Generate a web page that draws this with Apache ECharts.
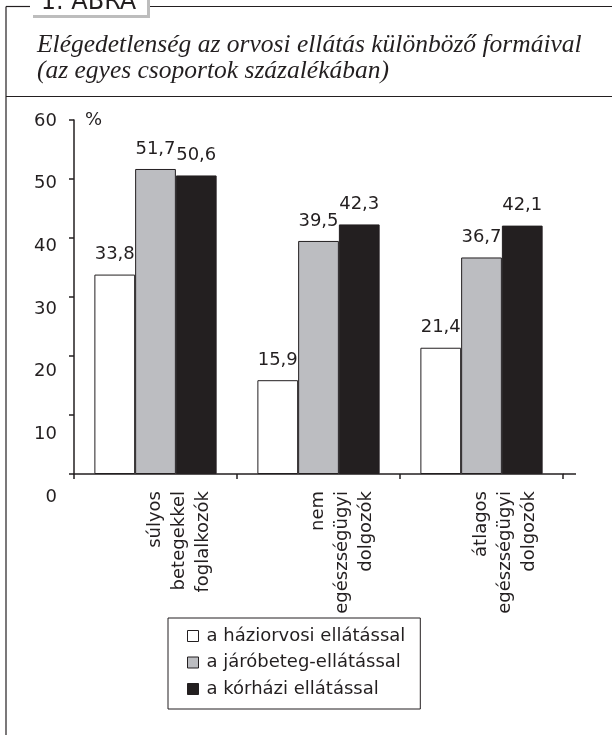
<!DOCTYPE html>
<html>
<head>
<meta charset="utf-8">
<script src="https://cdn.jsdelivr.net/npm/echarts@6/dist/echarts.min.js"></script>
<style>
html,body{margin:0;padding:0;background:#fff;}
#chart{width:612px;height:735px;}
</style>
</head>
<body>
<div id="chart"></div>
<script>
const categories = ['súlyos\nbetegekkel\nfoglalkozók', 'nem\negészségügyi\ndolgozók', 'átlagos\negészségügyi\ndolgozók'];
const seriesNames = ['a háziorvosi ellátással', 'a járóbeteg-ellátással', 'a kórházi ellátással'];
const haziorvosi = [33.8, 15.9, 21.4];
const jarobeteg = [51.7, 39.5, 36.7];
const korhazi = [50.6, 42.3, 42.1];
const yTicks = [0, 10, 20, 30, 40, 50, 60];
const titleText = 'Elégedetlenség az orvosi ellátás különböző formáival\n(az egyes csoportok százalékában)';
const tabText = '1. ÁBRA';

const ink = '#231f20';
const font = 'DejaVu Sans';
const colors = ['#ffffff', '#bcbdc1', '#231f20'];
const values = [haziorvosi, jarobeteg, korhazi];

const chart = echarts.init(document.getElementById('chart'), null, {renderer: 'canvas'});

const series = values.map((v, i) => ({
  name: seriesNames[i],
  type: 'bar',
  xAxisIndex: 0,
  yAxisIndex: 0,
  data: v,
  barGap: '0%',
  barCategoryGap: '25%',
  itemStyle: {color: colors[i], borderColor: ink, borderWidth: 1},
  label: {
    show: true,
    position: 'top',
    distance: 11,
    fontFamily: font,
    fontSize: 18,
    color: ink,
    formatter: p => String(p.value).replace('.', ',')
  }
}));

chart.setOption({
  animation: false,
  backgroundColor: '#fff',
  textStyle: {fontFamily: font},
  grid: [
    {left: 74, right: 49, top: 120, bottom: 261},
    {left: 74, right: 49, top: 121, bottom: 238}
  ],
  xAxis: [
    {
      type: 'category',
      gridIndex: 0,
      data: categories,
      axisLine: {lineStyle: {color: ink, width: 1.5}},
      axisTick: {show: true, length: 5, lineStyle: {color: ink, width: 1.5}},
      axisLabel: {
        rotate: 90,
        interval: 0,
        margin: 17,
        fontFamily: font,
        fontSize: 18,
        lineHeight: 24,
        color: ink,
        formatter: v => '\n\n' + v
      }
    },
    {
      type: 'category', gridIndex: 1, data: categories, show: false
    }
  ],
  yAxis: [
    {
      type: 'value',
      gridIndex: 0,
      min: yTicks[0],
      max: yTicks[yTicks.length - 1],
      interval: 10,
      name: '%',
      nameLocation: 'end',
      nameGap: 0,
      nameTextStyle: {fontFamily: font, fontSize: 18, color: ink, align: 'left', verticalAlign: 'middle', padding: [0, 0, 0, 11]},
      axisLine: {show: true, lineStyle: {color: ink, width: 1.5}},
      axisTick: {show: true, length: 5, lineStyle: {color: ink, width: 1.5}},
      axisLabel: {show: false},
      splitLine: {show: false}
    },
    {
      type: 'value',
      gridIndex: 1,
      min: yTicks[0],
      max: yTicks[yTicks.length - 1],
      interval: 10,
      axisLine: {show: false},
      axisTick: {show: false},
      splitLine: {show: false},
      axisLabel: {fontFamily: font, fontSize: 18, color: ink, margin: 17}
    }
  ],
  legend: {
    orient: 'vertical',
    left: 168,
    top: 618,
    padding: [8, 15, 10, 19],
    itemWidth: 11,
    itemHeight: 11,
    itemGap: 6.5,
    borderColor: ink,
    borderWidth: 1,
    icon: 'rect',
    textStyle: {fontFamily: font, fontSize: 18, color: ink, lineHeight: 20, padding: [0, 0, 0, 3]},
    data: seriesNames.map((n, i) => ({name: n, itemStyle: {color: colors[i], borderColor: ink, borderWidth: 1}}))
  },
  graphic: [
    {type: 'line', shape: {x1: 6, y1: 6.5, x2: 6, y2: 735}, style: {stroke: ink, lineWidth: 1.2}},
    {type: 'line', shape: {x1: 6, y1: 6.5, x2: 30, y2: 6.5}, style: {stroke: ink, lineWidth: 1.2}},
    {type: 'line', shape: {x1: 147, y1: 6.5, x2: 612, y2: 6.5}, style: {stroke: ink, lineWidth: 1.2}},
    {type: 'line', shape: {x1: 6, y1: 96.5, x2: 612, y2: 96.5}, style: {stroke: ink, lineWidth: 1.2}},
    {type: 'line', shape: {x1: 563, y1: 474, x2: 576, y2: 474}, style: {stroke: ink, lineWidth: 1.5}},
    {type: 'rect', shape: {x: 33, y: -10, width: 117, height: 28}, style: {fill: '#bdbdbd'}},
    {type: 'rect', shape: {x: 30, y: -10, width: 117, height: 25}, style: {fill: '#ffffff'}},
    {type: 'text', x: 88.5, y: 15, style: {text: tabText, fontFamily: 'DejaVu Sans', fontWeight: 'normal', fontSize: 24, fill: ink, align: 'center', verticalAlign: 'bottom'}},
    {type: 'text', x: 37, y: 32, style: {text: titleText, fontFamily: 'Liberation Serif', fontStyle: 'italic', fontSize: 25.5, lineHeight: 26.5, fill: ink, align: 'left', verticalAlign: 'top'}}
  ],
  series: series
});
</script>
</body>
</html>
